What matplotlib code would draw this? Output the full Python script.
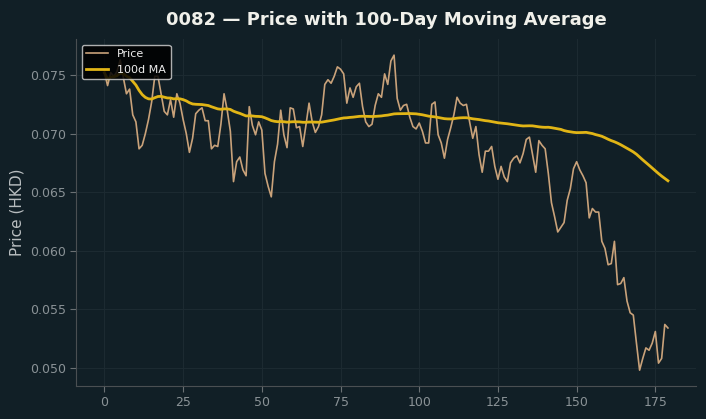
import matplotlib
matplotlib.use("Agg")
import matplotlib.pyplot as plt
import numpy as np
import pandas as pd

# daily closing price (180 sessions)
price = [
    0.0752, 0.0741, 0.0752, 0.0749, 0.0753, 0.0763, 0.0748, 0.0734, 0.0738, 0.0716,
    0.0710, 0.0687, 0.0690, 0.0700, 0.0712, 0.0727, 0.0749, 0.0749, 0.0734, 0.0719,
    0.0716, 0.0729, 0.0714, 0.0734, 0.0726, 0.0712, 0.0700, 0.0684, 0.0696, 0.0717,
    0.0720, 0.0722, 0.0711, 0.0711, 0.0687, 0.0690, 0.0689, 0.0708, 0.0734, 0.0720,
    0.0702, 0.0659, 0.0676, 0.0680, 0.0669, 0.0664, 0.0723, 0.0707, 0.0699, 0.0710,
    0.0703, 0.0666, 0.0655, 0.0646, 0.0676, 0.0691, 0.0720, 0.0699, 0.0688, 0.0722,
    0.0721, 0.0705, 0.0706, 0.0689, 0.0707, 0.0726, 0.0710, 0.0701, 0.0706, 0.0716,
    0.0742, 0.0746, 0.0743, 0.0749, 0.0757, 0.0755, 0.0751, 0.0726, 0.0739, 0.0731,
    0.0740, 0.0743, 0.0723, 0.0710, 0.0706, 0.0708, 0.0724, 0.0734, 0.0731, 0.0751,
    0.0742, 0.0762, 0.0767, 0.0730, 0.0720, 0.0724, 0.0725, 0.0714, 0.0706, 0.0704,
    0.0709, 0.0702, 0.0692, 0.0692, 0.0725, 0.0727, 0.0699, 0.0692, 0.0679, 0.0695,
    0.0705, 0.0716, 0.0731, 0.0726, 0.0724, 0.0725, 0.0710, 0.0696, 0.0706, 0.0682,
    0.0667, 0.0685, 0.0685, 0.0689, 0.0672, 0.0661, 0.0672, 0.0663, 0.0659, 0.0675,
    0.0679, 0.0681, 0.0675, 0.0683, 0.0695, 0.0697, 0.0682, 0.0667, 0.0694, 0.0690,
    0.0687, 0.0666, 0.0641, 0.0629, 0.0616, 0.0620, 0.0624, 0.0643, 0.0653, 0.0670,
    0.0676, 0.0669, 0.0664, 0.0658, 0.0628, 0.0636, 0.0633, 0.0633, 0.0608, 0.0602,
    0.0588, 0.0589, 0.0608, 0.0571, 0.0572, 0.0577, 0.0557, 0.0547, 0.0545, 0.0521,
    0.0498, 0.0508, 0.0517, 0.0515, 0.0521, 0.0531, 0.0504, 0.0508, 0.0537, 0.0534,
]
window = 100

s = pd.Series(price)
ma = s.rolling(window, min_periods=1).mean()
days = np.arange(len(price))

bg = '#111f26'
fig = plt.figure(figsize=(7.06, 4.19), dpi=100, facecolor=bg)
ax = fig.add_axes([0.108, 0.079, 0.878, 0.827], facecolor=bg)

ax.plot(days, s, color='#c9a27a', linewidth=1.2, label='Price')
ax.plot(days, ma, color='#e1b516', linewidth=2, label='100d MA')

ax.set_title('0082 \u2014 Price with 100-Day Moving Average', color='#f0f0ea',
             fontsize=13, fontweight='bold', pad=10)
ax.set_ylabel('Price (HKD)', color='#b9bec0', fontsize=11)

ax.grid(True, color='#1c2a31', linewidth=0.8)
ax.set_axisbelow(True)
for side in ['top', 'right']:
    ax.spines[side].set_visible(False)
for side in ['left', 'bottom']:
    ax.spines[side].set_color('#4a4f52')
ax.tick_params(colors='#8a9296', labelsize=9, length=4)
ax.tick_params(axis='both', color='#6a7073')
ax.yaxis.set_major_formatter(matplotlib.ticker.FormatStrFormatter('%.3f'))

leg = ax.legend(loc='upper left', fontsize=8, facecolor='black', edgecolor='#cccccc',
                framealpha=0.85, borderaxespad=0.5)
for t in leg.get_texts():
    t.set_color('#eeeeee')

fig.savefig('out.png', dpi=100, facecolor=bg)
